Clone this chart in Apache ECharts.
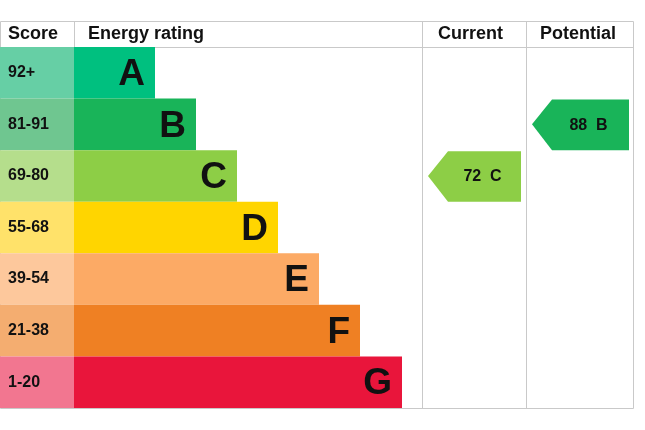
<!DOCTYPE html><html><head><meta charset="utf-8"><script src="https://cdn.jsdelivr.net/npm/echarts@6/dist/echarts.min.js"></script>
<style>body{margin:0}#c{width:645px;height:430px}</style></head><body><div id="c"></div><script>
const bands=['A','B','C','D','E','F','G'];
const scores=['92+','81-91','69-80','55-68','39-54','21-38','1-20'];
const barLen=[81,122,163,204,245,286,328];
const barColors=['#00c07f','#19b459','#8dce46','#ffd500','#fcaa65','#ef8023','#e9153b'];
const scoreColors=['#66cfa5','#6fc690','#b5de8c','#ffe26a','#fdc89c','#f4ad70','#f27690'];
const current={value:72,band:'C'};
const potential={value:88,band:'B'};
const chart=echarts.init(document.getElementById('c'));
const SC=74, CUR0=422, CUR1=526, POT1=634, BORDER='#c9c9c9';
const rows=bands.map((b,i)=>[i,barLen[i]]);
function rowRender(params,api){
  const i=api.value(0), len=api.value(1);
  const p0=api.coord([0,i]), h=api.size([0,1])[1];
  const y=p0[1]-h/2;
  const xs=api.coord([SC,i])[0], xe=api.coord([SC+len,i])[0];
  return {type:'group',children:[
    {type:'rect',shape:{x:p0[0],y:y,width:xs-p0[0],height:h},style:{fill:scoreColors[i]}},
    {type:'text',style:{text:scores[i],x:p0[0]+8,y:p0[1],verticalAlign:'middle',fontSize:16,fontWeight:'bold',fontFamily:'Liberation Sans',fill:'#111'}},
    {type:'rect',shape:{x:xs,y:y,width:xe-xs,height:h},style:{fill:barColors[i]}},
    {type:'text',style:{text:bands[i],x:xe-10,y:p0[1]+2,align:'right',verticalAlign:'middle',fontSize:37,fontWeight:'bold',fontFamily:'Liberation Sans',fill:'#111'}}
  ]};
}
function arrowRender(col0,col1){return function(params,api){
  const i=api.value(0), v=api.value(1);
  const c=api.coord([col0,i]), h=api.size([0,1])[1];
  const xl=c[0]+6, xr=api.coord([col1,i])[0]-5, yt=c[1]-h/2+1, yb=c[1]+h/2;
  const tip=xl+20;
  return {type:'group',children:[
    {type:'polygon',shape:{points:[[xl,c[1]],[tip,yt],[xr,yt],[xr,yb],[tip,yb]]},style:{fill:barColors[i]}},
    {type:'text',style:{text:v+'  '+bands[i],x:(tip+xr)/2-2,y:c[1]+1,align:'center',verticalAlign:'middle',fontSize:16,fontWeight:'bold',fontFamily:'Liberation Sans',fill:'#111'}}
  ]};
};}
const hdr=(t,x,align)=>({type:'text',left:x,top:25,style:{text:t,fontSize:18,fontWeight:'bold',fontFamily:'Liberation Sans',fill:'#111'}});
const line=(x1,y1,x2,y2)=>({type:'line',shape:{x1,y1,x2,y2},style:{stroke:BORDER,lineWidth:1}});
chart.setOption({animation:false,
  grid:{left:0,right:11,top:47,bottom:22},
  xAxis:{type:'value',min:0,max:634,show:false},
  yAxis:{type:'category',data:bands,inverse:true,show:false},
  graphic:[
    {type:'rect',shape:{x:0.5,y:21.5,width:633,height:387},style:{fill:null,stroke:BORDER}},
    line(0,47.5,634,47.5),line(74.5,21,74.5,47),line(422.5,21,422.5,409),line(526.5,21,526.5,409),
    hdr('Score',8),hdr('Energy rating',88),hdr('Current',438),hdr('Potential',540)
  ],
  series:[
    {type:'custom',renderItem:rowRender,data:rows},
    {type:'custom',renderItem:arrowRender(CUR0,CUR1),data:[[bands.indexOf(current.band),current.value]]},
    {type:'custom',renderItem:arrowRender(CUR1,POT1),data:[[bands.indexOf(potential.band),potential.value]]}
  ]});
</script></body></html>
